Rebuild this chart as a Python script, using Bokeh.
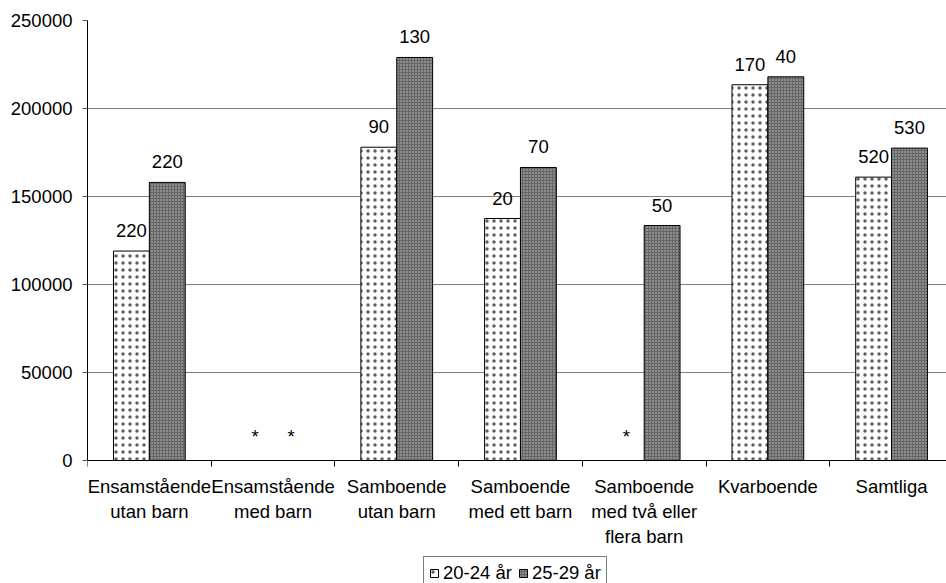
from bokeh.plotting import figure
from bokeh.models import (Range1d, FixedTicker, ColumnDataSource, Legend, LegendItem,
                          BasicTickFormatter)
from bokeh.transform import dodge
from bokeh.core.properties import value
from bokeh.embed import file_html
from bokeh.resources import INLINE

# ---- data ----
categories = ["Ensamstående\nutan barn", "Ensamstående\nmed barn", "Samboende\nutan barn",
              "Samboende\nmed ett barn", "Samboende\nmed två eller\nflera barn",
              "Kvarboende", "Samtliga"]
series_names = ["20-24 år", "25-29 år"]
v_2024 = [119000, 0, 178000, 137500, 0, 213500, 161000]
v_2529 = [158000, 0, 229000, 166500, 133500, 218000, 177500]
lab_2024 = ["220", "*", "90", "20", "*", "170", "520"]
lab_2529 = ["220", "*", "130", "70", "50", "40", "530"]
y_ticks = [0, 50000, 100000, 150000, 200000, 250000]

FONT = "Liberation Sans"
FS = "18.5px"

Y_MAX = y_ticks[-1]
# frame spans 20..583 px; value axis 0..250000 occupies 20..460 px
Y_MIN = -Y_MAX * 123 / 440

pos = [i + 0.5 for i in range(len(categories))]
src = ColumnDataSource(dict(x=pos, a=v_2024, b=v_2529, la=lab_2024, lb=lab_2529))

p = figure(width=946, height=583, output_backend="svg", toolbar_location=None,
           x_range=Range1d(0, 6.944), y_range=Range1d(Y_MIN, Y_MAX),
           min_border_left=87, min_border_top=20, min_border_right=0, min_border_bottom=0)
p.outline_line_color = None
p.background_fill_color = "white"

W = 0.29
r1 = p.vbar(x=dodge("x", -W / 2, range=p.x_range), top="a", width=W, source=src,
            fill_color="white", line_color="black", line_width=1,
            hatch_pattern="dot", hatch_color="#606060", hatch_scale=7, hatch_weight=1)
r2 = p.vbar(x=dodge("x", W / 2, range=p.x_range), top="b", width=W, source=src,
            fill_color="#666666", line_color="black", line_width=1,
            hatch_pattern="dot", hatch_color="#c8c8c8", hatch_scale=3, hatch_weight=1)

p.text(x=dodge("x", -W / 2, range=p.x_range), y="a", text="la", source=src,
       text_align="center", text_baseline="bottom", y_offset=-14,
       text_font=value(FONT), text_font_size=FS, text_color="black")
p.text(x=dodge("x", W / 2, range=p.x_range), y="b", text="lb", source=src,
       text_align="center", text_baseline="bottom", y_offset=-14,
       text_font=value(FONT), text_font_size=FS, text_color="black")

# y axis
p.yaxis.ticker = FixedTicker(ticks=y_ticks)
p.yaxis.bounds = (y_ticks[0], y_ticks[-1])
p.yaxis.formatter = BasicTickFormatter(use_scientific=False)
p.yaxis.major_label_text_font = FONT
p.yaxis.major_label_text_font_size = FS
p.yaxis.major_label_text_color = "black"
p.yaxis.major_tick_out = 5
p.yaxis.major_tick_in = 0
p.yaxis.minor_tick_line_color = None
p.yaxis.axis_line_color = "black"
p.yaxis.major_tick_line_color = "#555555"
p.yaxis.major_label_standoff = 10

# x axis at value 0: labels at centers, ticks at boundaries (as minor ticks)
p.xaxis.fixed_location = 0
p.xaxis.ticker = FixedTicker(ticks=pos, minor_ticks=list(range(len(categories) + 1)))
p.xaxis.major_label_overrides = {pv: c for pv, c in zip(pos, categories)}
p.xaxis.major_tick_line_color = None
p.xaxis.major_tick_out = 0
p.xaxis.major_tick_in = 0
p.xaxis.minor_tick_out = 6
p.xaxis.minor_tick_in = 0
p.xaxis.minor_tick_line_color = "black"
p.xaxis.axis_line_color = "black"
p.xaxis.major_label_text_font = FONT
p.xaxis.major_label_text_font_size = FS
p.xaxis.major_label_text_color = "black"
p.xaxis.major_label_standoff = 9
p.xaxis.major_label_orientation = "horizontal"

p.xgrid.grid_line_color = None
p.ygrid.ticker = FixedTicker(ticks=y_ticks)
p.ygrid.grid_line_color = "#808080"
p.ygrid.grid_line_width = 1

legend = Legend(items=[LegendItem(label=series_names[0], renderers=[r1]),
                       LegendItem(label=series_names[1], renderers=[r2])],
                orientation="horizontal", location=(336, -7),
                border_line_color="black", border_line_width=1,
                padding=5, spacing=6, margin=0,
                glyph_width=10, glyph_height=10, label_standoff=4, label_height=16,
                label_text_font=FONT, label_text_font_size=FS, label_text_color="black",
                background_fill_alpha=1)
p.add_layout(legend, "center")

open("out.html", "w").write(file_html(p, INLINE))
